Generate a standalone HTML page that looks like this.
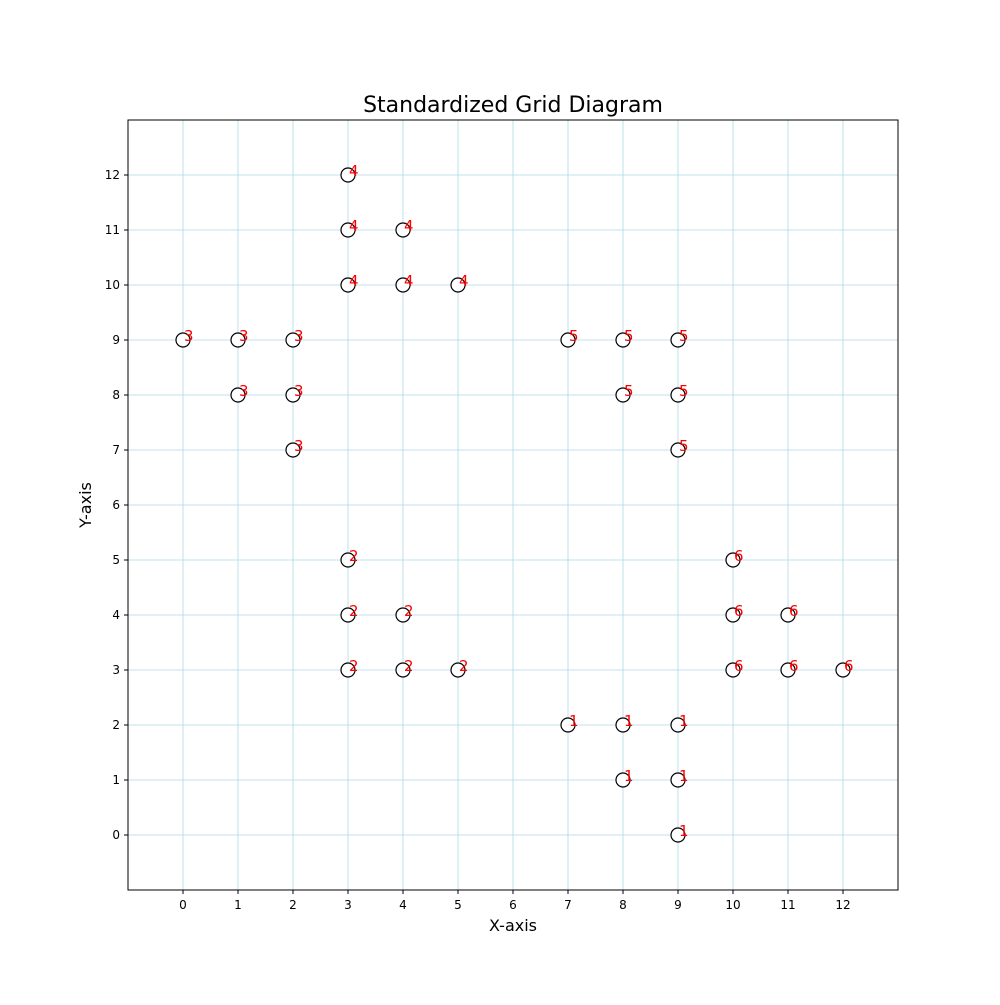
<!DOCTYPE html>
<html><head><meta charset="utf-8"><style>
body{margin:0;background:#fff}
text{font-family:"DejaVu Sans","Liberation Sans",sans-serif}
</style></head><body>
<svg id="chart" width="1000" height="1000" xmlns="http://www.w3.org/2000/svg">
<rect width="1000" height="1000" fill="#fff"/>
<text x="513" y="112" font-size="22" text-anchor="middle">Standardized Grid Diagram</text>
<g id="grid"></g>
<g id="ticks"></g>
<g id="points"></g>
<g id="labels"></g>
<rect x="128" y="120" width="770" height="770" fill="none" stroke="#000" stroke-width="1"/>
<text x="513" y="931" font-size="16" text-anchor="middle">X-axis</text>
<text x="0" y="0" font-size="16" text-anchor="middle" transform="translate(91,505) rotate(-90)">Y-axis</text>
</svg>
<script>
const xTicks=[0,1,2,3,4,5,6,7,8,9,10,11,12];
const yTicks=[0,1,2,3,4,5,6,7,8,9,10,11,12];
const ptX=[7,8,9,8,9,9, 3,3,4,3,4,5, 0,1,2,1,2,2, 3,3,4,3,4,5, 7,8,9,8,9,9, 10,10,11,10,11,12];
const ptY=[2,2,2,1,1,0, 5,4,4,3,3,3, 9,9,9,8,8,7, 12,11,11,10,10,10, 9,9,9,8,8,7, 5,4,4,3,3,3];
const ptLabel=["1","1","1","1","1","1","2","2","2","2","2","2","3","3","3","3","3","3","4","4","4","4","4","4","5","5","5","5","5","5","6","6","6","6","6","6"];
const X0=128,X1=898,Y0=890,Y1=120,xmin=-1,xmax=13,ymin=-1,ymax=13;
const sx=v=>X0+(v-xmin)/(xmax-xmin)*(X1-X0);
const sy=v=>Y0-(v-ymin)/(ymax-ymin)*(Y0-Y1);
const NS="http://www.w3.org/2000/svg";
function mk(t,a,p){const e=document.createElementNS(NS,t);for(const k in a)e.setAttribute(k,a[k]);p.appendChild(e);return e;}
const g=document.getElementById('grid'),tk=document.getElementById('ticks'),pt=document.getElementById('points'),lb=document.getElementById('labels');
xTicks.forEach(v=>{
 const l=mk('line',{x1:sx(v),x2:sx(v),y1:Y1,y2:Y0,stroke:'#add8e6','stroke-width':0.8},g);
 
 
 const t=mk('line',{x1:sx(v),x2:sx(v),y1:Y0,y2:Y0+4,stroke:'#000'},tk);
 
 
 const s=mk('text',{x:sx(v),y:Y0+19,'font-size':12,'text-anchor':'middle'},tk);s.textContent=v;
 
 
});
yTicks.forEach(v=>{
 const l=mk('line',{x1:X0,x2:X1,y1:sy(v),y2:sy(v),stroke:'#add8e6','stroke-width':0.8},g);
 
 
 const t=mk('line',{x1:X0-4,x2:X0,y1:sy(v),y2:sy(v),stroke:'#000'},tk);
 
 
 const s=mk('text',{x:X0-8,y:sy(v)+4,'font-size':12,'text-anchor':'end'},tk);s.textContent=v;
 
 
});
ptX.forEach((x,i)=>{
 const c=mk('circle',{cx:sx(x),cy:sy(ptY[i]),r:7,fill:'#fff',stroke:'#000','stroke-width':1.2},pt);
 
 
 const s=mk('text',{x:sx(x)+1,y:sy(ptY[i])+1,'font-size':15,fill:'#ff0000'},lb);s.textContent=ptLabel[i];
 
 
});
</script>
</body></html>
